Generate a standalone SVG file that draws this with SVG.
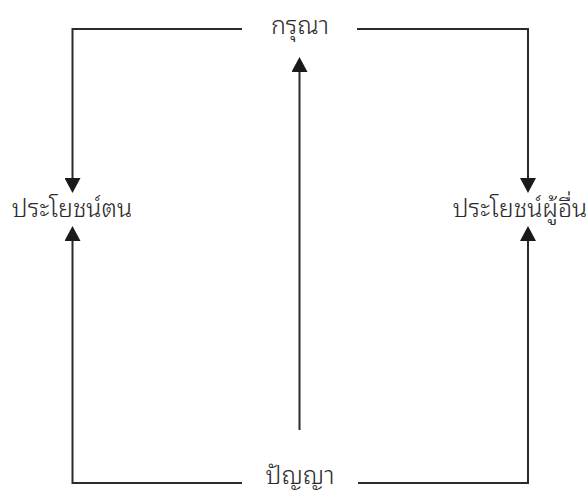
<svg xmlns="http://www.w3.org/2000/svg" width="588" height="493" viewBox="0 0 588 493">
<defs>
<style>
.c{fill:none;stroke:#2b2b2b;stroke-width:2}
.t{font-family:"Noto Sans Thai Looped","Noto Serif Thai","Noto Sans Thai","Noto Sans","DejaVu Sans",sans-serif;font-size:25px;font-weight:300;fill:#2b2b2b;text-anchor:middle}
</style>
<marker id="ah" markerUnits="userSpaceOnUse" markerWidth="15" markerHeight="16" refX="0" refY="7.5" orient="auto" viewBox="0 0 14 15">
<path d="M0,0 L14,7.5 L0,15 z" fill="#1a1a1a"/>
</marker>
</defs>
<rect width="588" height="493" fill="#ffffff"/>
<g id="connectors">
<path class="c" d="M242,29 H72.5 V178" marker-end="url(#ah)"/>
<path class="c" d="M357,29 H528 V178" marker-end="url(#ah)"/>
<path class="c" d="M242,483 H72.5 V241" marker-end="url(#ah)"/>
<path class="c" d="M358,483 H528 V241" marker-end="url(#ah)"/>
<path class="c" d="M299.5,430 V72" marker-end="url(#ah)"/>
</g>
<g id="node-karuna"><text class="t" x="300" y="34">กรุณา</text></g>
<g id="node-self"><text class="t" x="72" y="217">ประโยชน์ตน</text></g>
<g id="node-others"><text class="t" x="520" y="217">ประโยชน์ผู้อื่น</text></g>
<g id="node-panya"><text class="t" x="300" y="484">ปัญญา</text></g>
</svg>
